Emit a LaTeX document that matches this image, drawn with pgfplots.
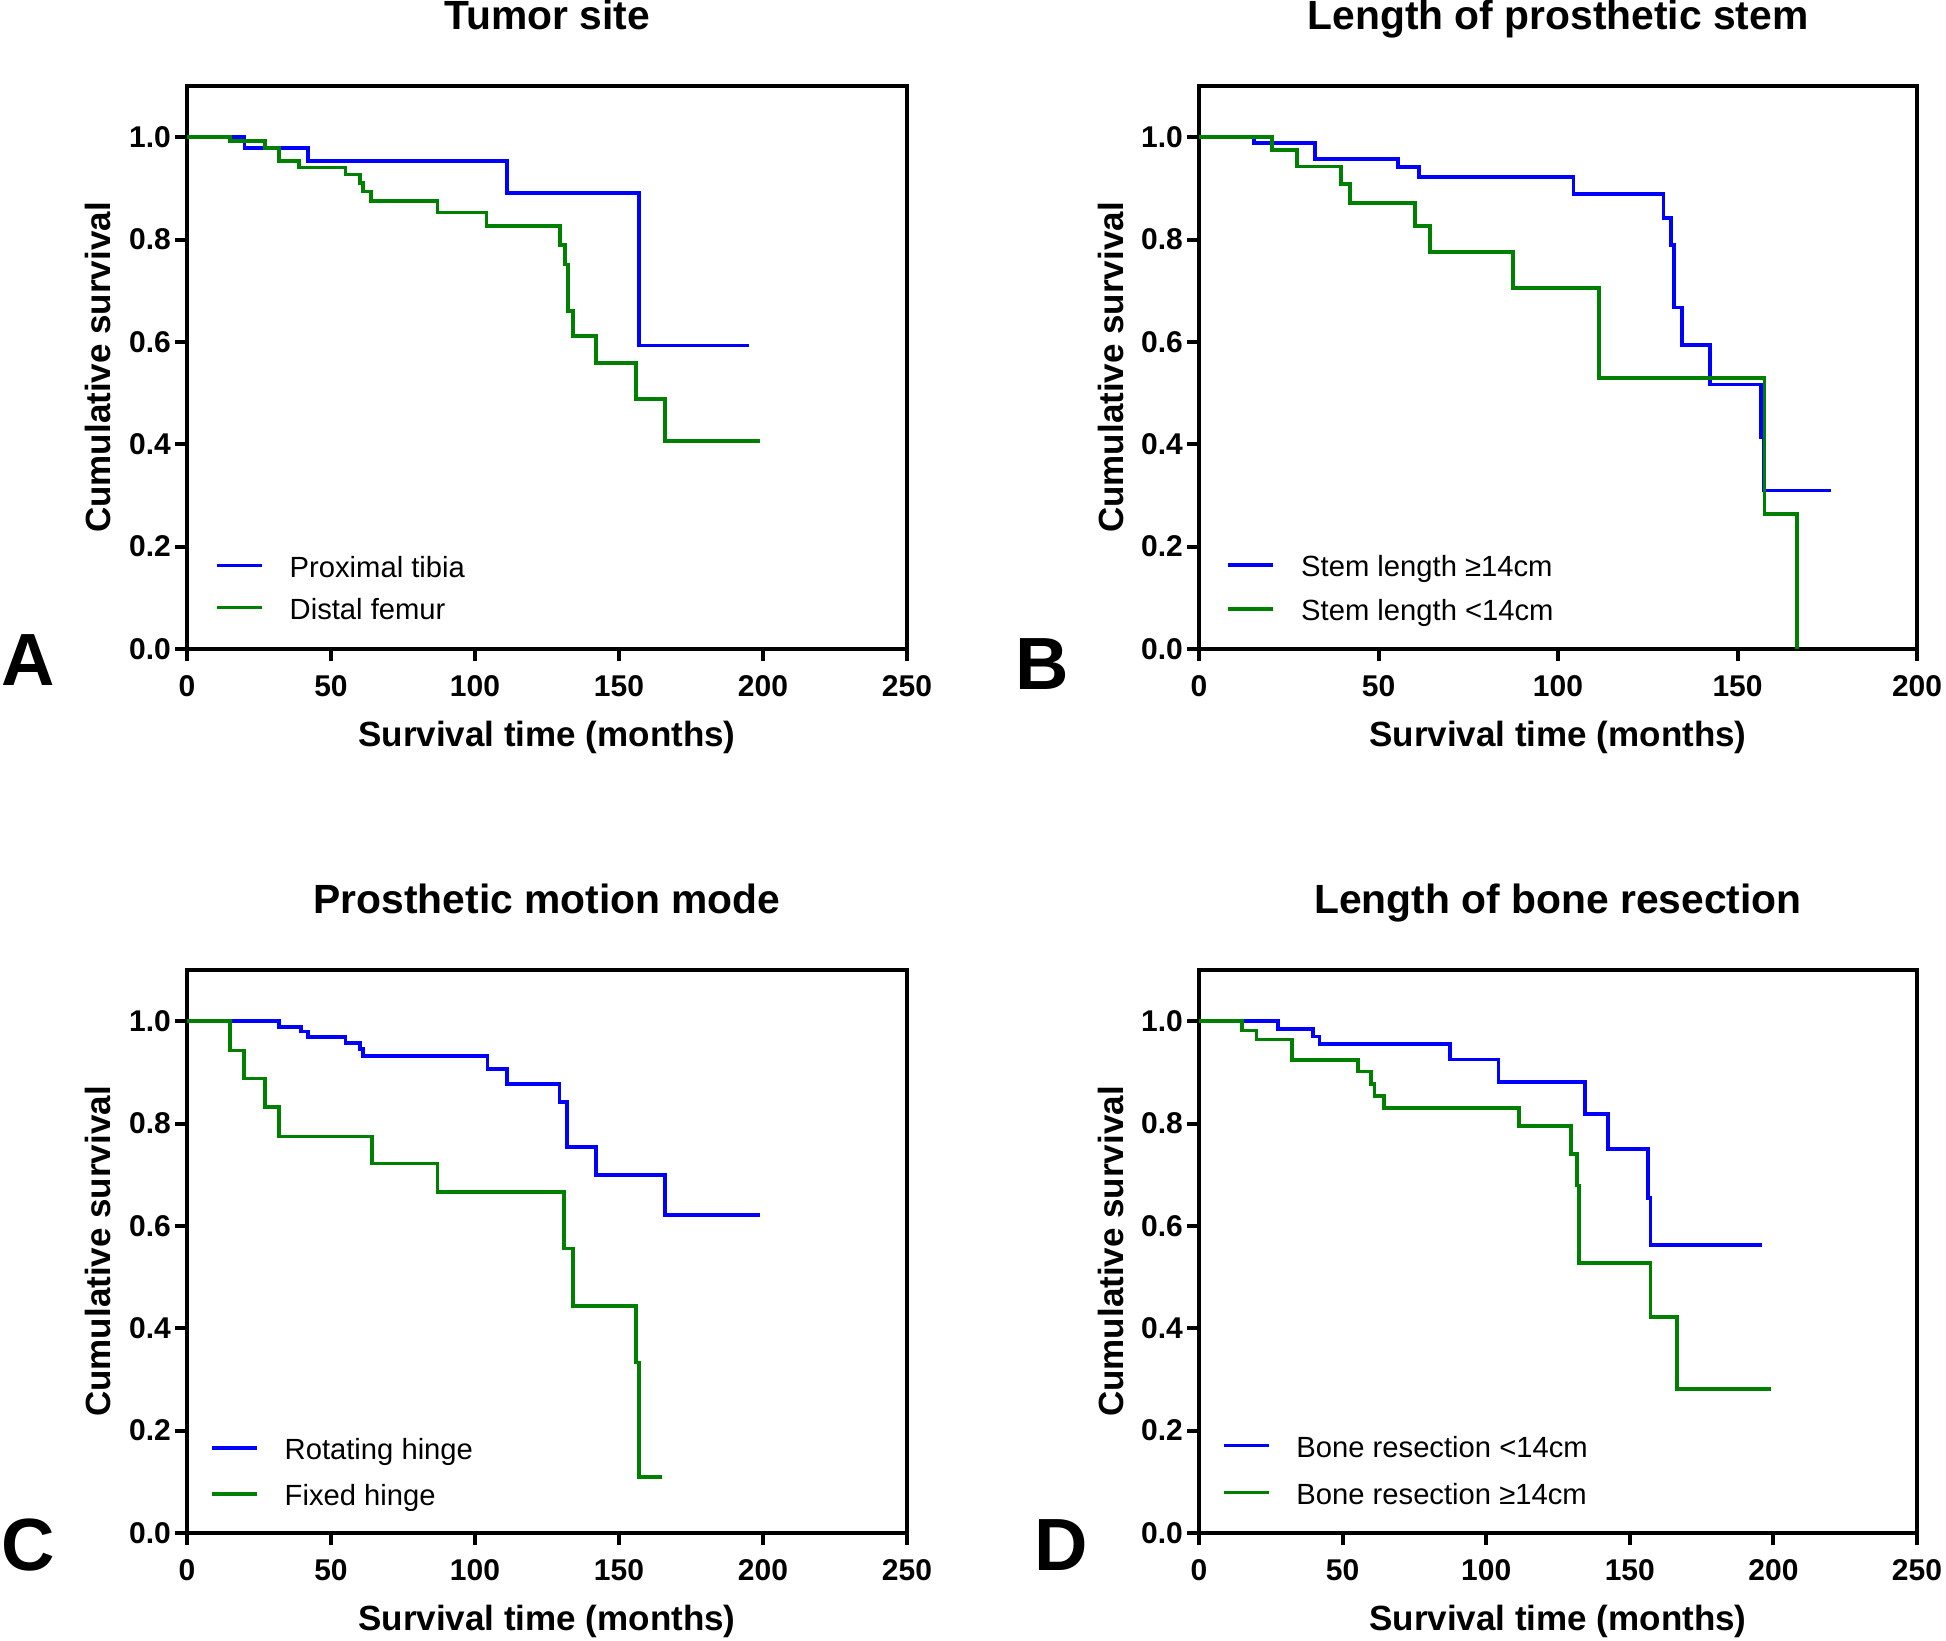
\documentclass[border=0pt]{standalone}
\usepackage{fontspec}
\setmainfont{Liberation Sans}
\usepackage{pgfplots}
\pgfplotsset{compat=1.18}
\definecolor{kmblue}{RGB}{0,0,255}
\definecolor{kmgreen}{RGB}{0,128,0}
\pgfplotsset{
  km/.style={
    scale only axis, height=281.5pt,
    xmin=0, ymin=0, ymax=1.1,
    line width=2pt,
    major tick length=6pt, tick align=outside, tick pos=left,
    every tick/.style={black, line width=2pt},
    ytick={0,0.2,0.4,0.6,0.8,1.0},
    /pgf/number format/assume math mode=true,
    yticklabel style={/pgf/number format/.cd, fixed, fixed zerofill, precision=1, /tikz/.cd,
      font=\bfseries\fontsize{15}{18}\selectfont, inner sep=0pt, xshift=-1.1pt},
    xticklabel style={font=\bfseries\fontsize{15}{18}\selectfont, inner sep=0pt, anchor=north, yshift=-6.5pt},
    title style={at={(axis description cs:0.5,1)}, anchor=base, yshift=22.15pt,
      font=\bfseries\fontsize{20.4}{24}\selectfont},
    xlabel={Survival time (months)}, ylabel={Cumulative survival},
    xlabel style={at={(axis description cs:0.5,0)}, anchor=base, yshift=-48.7pt,
      font=\bfseries\fontsize{17.5}{20}\selectfont},
    ylabel style={at={(axis description cs:0,0.5)}, anchor=base, yshift=38pt,
      font=\bfseries\fontsize{17.5}{20}\selectfont},
    clip=false,
    legend cell align=left,
    legend style={at={(axis description cs:0,0)}, anchor=south west, draw=none, fill=none,
      inner sep=0pt, outer sep=0pt, font=\fontsize{14.6}{17}\selectfont,
      column sep=13pt,
      nodes={inner sep=0pt, text height=11pt, text depth=3.5pt}},
    legend image code/.code={\draw[#1, line width=1.85pt] (0pt,2.2pt) -- (22.5pt,2.2pt);},
    every axis plot/.append style={line width=1.85pt, const plot, mark=none},
  }
}
\begin{document}
\begin{tikzpicture}
\useasboundingbox (0,0) rectangle (973pt,-820pt);
% Panel A
\begin{axis}[km, at={(93.5pt,-324.5pt)}, anchor=south west, width=360pt,
  xmax=250, xtick={0,50,100,150,200,250}, title={Tumor site},
  legend style={xshift=14pt, yshift=11.3pt, row sep=6.5pt}]
\addplot[kmblue] coordinates {(0,1) (20,0.979) (42,0.954) (111,0.891) (157,0.593) (195,0.593)};
\addplot[kmgreen] coordinates {(0,1) (15,0.992) (27,0.979) (32,0.954) (39,0.941) (55,0.927) (60,0.911) (61,0.894) (64,0.876) (87,0.853) (104,0.826) (129.5,0.789) (131.3,0.751) (132.3,0.661) (134,0.611) (142,0.559) (156,0.489) (166,0.407) (199,0.407)};
\legend{Proximal tibia, Distal femur}
\end{axis}
% Panel B
\begin{axis}[km, at={(599.5pt,-324.5pt)}, anchor=south west, width=359pt,
  xmax=200, xtick={0,50,100,150,200}, title={Length of prosthetic stem},
  legend style={xshift=13.75pt, yshift=10.55pt, row sep=7.5pt}]
\addplot[kmblue] coordinates {(0,1) (15.4,0.989) (32.4,0.958) (55.5,0.942) (61.3,0.922) (104.3,0.889) (129.4,0.842) (131.5,0.789) (132.3,0.667) (134.5,0.594) (142.4,0.517) (156.6,0.413) (157.2,0.310) (176,0.310)};
\addplot[kmgreen] coordinates {(0,1) (20.3,0.975) (27.2,0.943) (39.5,0.908) (42.1,0.871) (60.2,0.827) (64.4,0.776) (87.4,0.705) (111.4,0.530) (157.5,0.264) (166.5,0)};
\legend{Stem length ≥14cm, Stem length <14cm}
\end{axis}
% Panel C
\begin{axis}[km, at={(93.5pt,-766.5pt)}, anchor=south west, width=360pt,
  xmax=250, xtick={0,50,100,150,200,250}, title={Prosthetic motion mode},
  legend style={xshift=11.5pt, yshift=10.15pt, row sep=8.5pt}]
\addplot[kmblue] coordinates {(0,1) (32,0.989) (39.7,0.980) (42,0.969) (55,0.958) (60,0.946) (61,0.932) (104.3,0.906) (111,0.878) (129.3,0.842) (132,0.754) (142,0.700) (166,0.622) (199,0.622)};
\addplot[kmgreen] coordinates {(0,1) (15,0.943) (19.8,0.888) (27,0.832) (32,0.775) (64.3,0.722) (87,0.666) (131,0.556) (134,0.444) (156,0.333) (157,0.109) (164.8,0.109)};
\legend{Rotating hinge, Fixed hinge}
\end{axis}
% Panel D
\begin{axis}[km, at={(599.5pt,-766.5pt)}, anchor=south west, width=359pt,
  xmax=250, xtick={0,50,100,150,200,250}, title={Length of bone resection},
  legend style={xshift=11.35pt, yshift=10.8pt, row sep=9pt}]
\addplot[kmblue] coordinates {(0,1) (27.4,0.985) (39.7,0.970) (42,0.956) (87.4,0.925) (104.3,0.881) (134.4,0.819) (142.3,0.751) (156.4,0.655) (157.2,0.563) (196,0.563)};
\addplot[kmgreen] coordinates {(0,1) (15,0.982) (20,0.964) (32.3,0.924) (55.4,0.902) (60,0.878) (61.1,0.854) (64.3,0.830) (111.3,0.795) (129.5,0.741) (131.6,0.679) (132.3,0.528) (157.2,0.422) (166.4,0.282) (199,0.282)};
\legend{Bone resection <14cm, Bone resection ≥14cm}
\end{axis}
% Panel letters
\node[anchor=base west, inner sep=0pt, font=\bfseries\fontsize{37}{40}\selectfont] at (0.5pt,-342.5pt) {A};
\node[anchor=base west, inner sep=0pt, font=\bfseries\fontsize{37}{40}\selectfont] at (507.5pt,-344.5pt) {B};
\node[anchor=base west, inner sep=0pt, font=\bfseries\fontsize{37}{40}\selectfont] at (0.5pt,-785pt) {C};
\node[anchor=base west, inner sep=0pt, font=\bfseries\fontsize{37}{40}\selectfont] at (517pt,-785pt) {D};
\end{tikzpicture}
\end{document}
